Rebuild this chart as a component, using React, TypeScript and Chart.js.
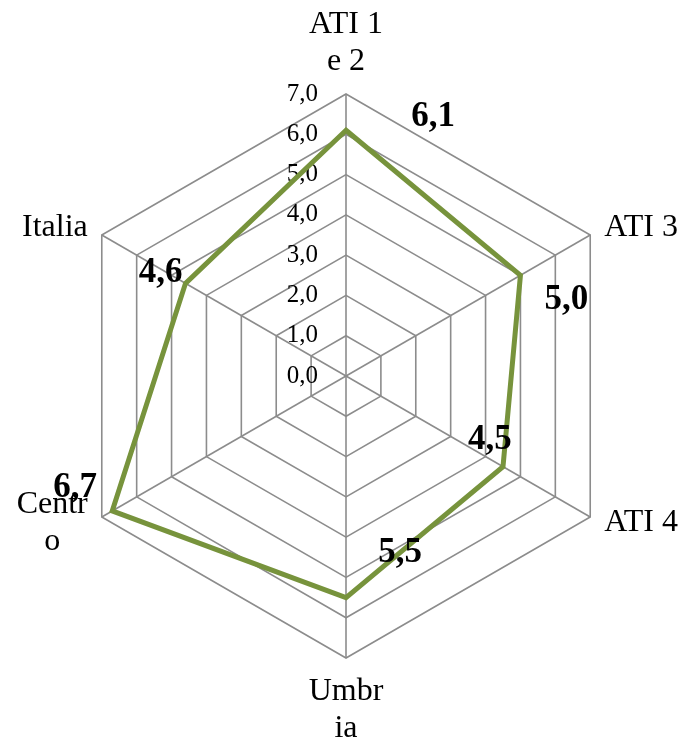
import React, { useEffect, useRef } from "react";
import { Chart, registerables } from "chart.js";

Chart.register(...registerables);

const categories: string[][] = [["ATI 1", "e 2"], ["ATI 3"], ["ATI 4"], ["Umbr", "ia"], ["Centr", "o"], ["Italia"]];
const values: number[] = [6.1, 5.0, 4.5, 5.5, 6.7, 4.6];
const valueLabels: string[] = ["6,1", "5,0", "4,5", "5,5", "6,7", "4,6"];
const tickLabels: string[] = ["0,0", "1,0", "2,0", "3,0", "4,0", "5,0", "6,0", "7,0"];

// label offsets relative to each point (style only)
const labelOffsets: [number, number][] = [[87, -13], [46, 25], [-13, -27], [54, -45], [-37, -23], [-25, -10]];

const SERIF = '"Liberation Serif", "Times New Roman", serif';

const overlay = {
  id: "overlay",
  beforeDatasetsDraw(chart: any) {
    const s = chart.scales.r;
    const ctx = chart.ctx;
    ctx.save();
    ctx.font = `25px ${SERIF}`;
    ctx.fillStyle = "#000";
    ctx.textAlign = "right";
    ctx.textBaseline = "middle";
    s.ticks.forEach((t: any, i: number) => {
      const y = s.yCenter - s.getDistanceFromCenterForValue(t.value);
      ctx.fillText(tickLabels[i] ?? String(t.value), s.xCenter - 28, y);
    });
    ctx.restore();
  },
  afterDatasetsDraw(chart: any) {
    const s = chart.scales.r;
    const ctx = chart.ctx;
    ctx.save();
    ctx.fillStyle = "#000";
    // point labels
    ctx.font = `32px ${SERIF}`;
    const lh = 37;
    categories.forEach((lines, i) => {
      const p = s.getPointPosition(i, s.drawingArea);
      const dx = p.x - s.xCenter;
      const dy = p.y - s.yCenter;
      if (Math.abs(dx) < 1) {
        ctx.textAlign = "center";
        ctx.textBaseline = "alphabetic";
        if (dy < 0) {
          const last = p.y - 24;
          lines.forEach((l, k) => ctx.fillText(l, p.x, last - (lines.length - 1 - k) * lh));
        } else {
          const first = p.y + 42;
          lines.forEach((l, k) => ctx.fillText(l, p.x, first + k * lh));
        }
      } else {
        ctx.textBaseline = "middle";
        const maxW = Math.max(...lines.map((l) => ctx.measureText(l).width));
        const cy = p.y + (dy > 0 ? 6 : -7);
        const cx = dx > 0 ? p.x + 14 + maxW / 2 : p.x - 14 - maxW / 2;
        lines.forEach((l, k) => {
          const y = cy + (k - (lines.length - 1) / 2) * lh;
          if (lines.length === 1) {
            ctx.textAlign = dx > 0 ? "left" : "right";
            ctx.fillText(l, dx > 0 ? p.x + 14 : p.x - 14, y);
          } else {
            ctx.textAlign = "center";
            ctx.fillText(l, cx, y);
          }
        });
      }
    });
    // data labels
    const meta = chart.getDatasetMeta(0);
    ctx.font = `bold 35px ${SERIF}`;
    ctx.textAlign = "center";
    ctx.textBaseline = "middle";
    meta.data.forEach((el: any, i: number) => {
      const [ox, oy] = labelOffsets[i];
      ctx.fillText(valueLabels[i], el.x + ox, el.y + oy);
    });
    ctx.restore();
  },
};

export default function App() {
  const ref = useRef<HTMLCanvasElement>(null);
  useEffect(() => {
    document.body.style.margin = "0";
    const chart = new Chart(ref.current!, {
      type: "radar",
      data: {
        labels: categories,
        datasets: [
          {
            data: values,
            borderColor: "#77933C",
            backgroundColor: "rgba(0,0,0,0)",
            borderWidth: 5,
            fill: false,
            pointRadius: 0,
            pointHoverRadius: 0,
            tension: 0,
          },
        ],
      },
      options: {
        responsive: false,
        animation: false,
        layout: { padding: { left: 64, right: 56, top: 94, bottom: 81 } },
        plugins: { legend: { display: false }, tooltip: { enabled: false } },
        scales: {
          r: {
            min: 0,
            max: 7,
            ticks: { stepSize: 1, display: false },
            grid: { color: "#8c8c8c", lineWidth: 1.6 },
            angleLines: { color: "#8c8c8c", lineWidth: 1.6 },
            pointLabels: { display: false },
          },
        },
      },
      plugins: [overlay],
    });
    return () => chart.destroy();
  }, []);
  return <canvas ref={ref} width={684} height={739} style={{ display: "block" }} />;
}
